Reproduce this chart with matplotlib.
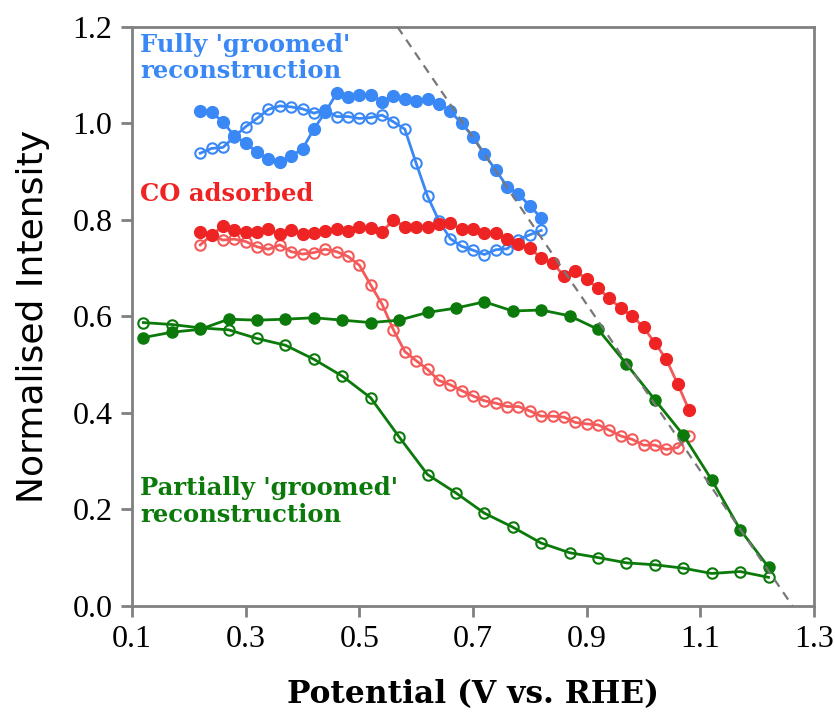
import matplotlib.pyplot as plt
from matplotlib.ticker import FormatStrFormatter


# potential grids (V vs. RHE)
x_fine = [0.22, 0.24, 0.26, 0.28, 0.30, 0.32, 0.34, 0.36, 0.38, 0.40,
          0.42, 0.44, 0.46, 0.48, 0.50, 0.52, 0.54, 0.56, 0.58, 0.60,
          0.62, 0.64, 0.66, 0.68, 0.70, 0.72, 0.74, 0.76, 0.78, 0.80,
          0.82, 0.84, 0.86, 0.88, 0.90, 0.92, 0.94, 0.96, 0.98, 1.00,
          1.02, 1.04, 1.06, 1.08]
x_coarse = [0.12, 0.17, 0.22, 0.27, 0.32, 0.37, 0.42, 0.47, 0.52, 0.57,
            0.62, 0.67, 0.72, 0.77, 0.82, 0.87, 0.92, 0.97, 1.02, 1.07,
            1.12, 1.17, 1.22]

# fully groomed (blue)
blue_fwd = [1.026, 1.023, 1.003, 0.974, 0.959, 0.940, 0.926, 0.920, 0.932, 0.947,
            0.988, 1.023, 1.062, 1.055, 1.059, 1.059, 1.045, 1.057, 1.050, 1.047,
            1.050, 1.041, 1.025, 1.000, 0.972, 0.936, 0.903, 0.869, 0.853, 0.829,
            0.804]
blue_rev = [0.938, 0.948, 0.950, 0.972, 0.993, 1.010, 1.029, 1.036, 1.034, 1.030,
            1.021, 1.028, 1.014, 1.014, 1.010, 1.012, 1.017, 1.003, 0.988, 0.917,
            0.849, 0.798, 0.761, 0.745, 0.737, 0.728, 0.738, 0.740, 0.759, 0.769,
            0.778]

# CO adsorbed (red)
red_fwd = [0.775, 0.768, 0.787, 0.779, 0.775, 0.775, 0.780, 0.770, 0.779, 0.770,
           0.772, 0.777, 0.780, 0.777, 0.786, 0.782, 0.775, 0.800, 0.786, 0.786,
           0.786, 0.791, 0.793, 0.780, 0.780, 0.773, 0.773, 0.760, 0.749, 0.742,
           0.720, 0.711, 0.684, 0.694, 0.677, 0.658, 0.637, 0.617, 0.601, 0.577,
           0.545, 0.511, 0.460, 0.406]
red_rev = [0.748, 0.768, 0.758, 0.760, 0.755, 0.744, 0.739, 0.748, 0.734, 0.729,
           0.732, 0.739, 0.734, 0.724, 0.706, 0.665, 0.625, 0.572, 0.527, 0.508,
           0.490, 0.467, 0.458, 0.446, 0.435, 0.425, 0.420, 0.413, 0.413, 0.404,
           0.393, 0.393, 0.391, 0.380, 0.377, 0.375, 0.364, 0.352, 0.345, 0.333,
           0.333, 0.324, 0.328, 0.352]

# partially groomed (green)
green_fwd = [0.556, 0.567, 0.573, 0.594, 0.592, 0.594, 0.597, 0.592, 0.587, 0.592,
             0.608, 0.617, 0.630, 0.611, 0.613, 0.601, 0.573, 0.501, 0.427, 0.354,
             0.261, 0.158, 0.080]
green_rev = [0.587, 0.583, 0.576, 0.572, 0.554, 0.540, 0.511, 0.476, 0.431, 0.350,
             0.272, 0.234, 0.192, 0.163, 0.130, 0.110, 0.100, 0.089, 0.085, 0.078,
             0.067, 0.071, 0.059]

guide_x = [0.567, 1.262]
guide_y = [1.2, 0.0]

blue = '#3a88f5'
red = '#ee2424'
red_light = '#f45a5a'
green = '#0b7a0b'
spine_grey = '#808080'

fig = plt.figure(figsize=(8.35, 7.13), dpi=100)
ax = fig.add_axes([132 / 835, 1 - 605.8 / 713, 682 / 835, 579 / 713])

nb = len(blue_fwd)
ax.plot(x_fine[:nb], blue_rev, '-o', color=blue, lw=2, ms=7.5,
        mfc='none', mec=blue, mew=1.5, zorder=3)
ax.plot(x_fine[:nb], blue_fwd, '-o', color=blue, lw=2, ms=8.5,
        mfc=blue, mec=blue, zorder=4)

ax.plot(x_fine, red_rev, '-', color=red_light, lw=2, zorder=3)
ax.plot(x_fine, red_rev, 'o', ms=7.5, mfc='none', mec=red_light, mew=1.5,
        zorder=3)
ax.plot(x_fine, red_fwd, '-', color=red_light, lw=2, zorder=4)
ax.plot(x_fine, red_fwd, 'o', ms=8.5, mfc=red, mec=red, zorder=4)

ax.plot(x_coarse, green_rev, '-o', color=green, lw=2, ms=7.5,
        mfc='none', mec=green, mew=1.5, zorder=3)
ax.plot(x_coarse, green_fwd, '-o', color=green, lw=2, ms=8,
        mfc=green, mec=green, zorder=4)

ax.plot(guide_x, guide_y, '--', color='#777777', lw=1.6, dashes=(4, 3),
        zorder=5)

ax.set_xlim(0.1, 1.3)
ax.set_ylim(0.0, 1.2)
ax.set_xticks([0.1, 0.3, 0.5, 0.7, 0.9, 1.1, 1.3])
ax.set_yticks([0.0, 0.2, 0.4, 0.6, 0.8, 1.0, 1.2])
ax.xaxis.set_major_formatter(FormatStrFormatter('%.1f'))
ax.yaxis.set_major_formatter(FormatStrFormatter('%.1f'))

for sp in ax.spines.values():
    sp.set_color(spine_grey)
    sp.set_linewidth(2)
ax.tick_params(direction='out', length=8, width=2, color=spine_grey,
               labelsize=23, pad=6)
for lab in ax.get_xticklabels() + ax.get_yticklabels():
    lab.set_fontfamily('Liberation Serif')

ax.set_xlabel('Potential (V vs. RHE)', fontsize=22.5, fontweight='bold',
              family='DejaVu Serif', labelpad=18)
ax.set_ylabel('Normalised Intensity', fontsize=26, family='DejaVu Sans',
              labelpad=16)

txt = dict(family='DejaVu Serif', fontweight='bold', fontsize=17.5,
           ha='left', va='top', linespacing=1.15)
ax.text(0.114, 1.188, "Fully 'groomed'\nreconstruction", color=blue, **txt)
ax.text(0.114, 0.878, "CO adsorbed", color=red, **txt)
ax.text(0.114, 0.268, "Partially 'groomed'\nreconstruction", color=green,
        **txt)

fig.savefig('out.png', dpi=100)
